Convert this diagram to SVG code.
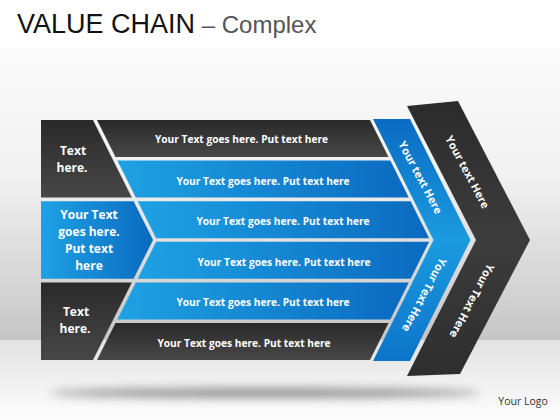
<svg xmlns="http://www.w3.org/2000/svg" width="560" height="420" viewBox="0 0 560 420">
  <defs>
    <linearGradient id="wall" x1="0" y1="0" x2="0" y2="1">
      <stop offset="0" stop-color="#fbfbfb"/>
      <stop offset="0.45" stop-color="#f0f0f0"/>
      <stop offset="1" stop-color="#c6c6c6"/>
    </linearGradient>
    <linearGradient id="floor" x1="0" y1="0" x2="0" y2="1">
      <stop offset="0" stop-color="#e2e2e2"/>
      <stop offset="1" stop-color="#fdfdfd"/>
    </linearGradient>
    <linearGradient id="dark" x1="0" y1="0" x2="0" y2="1">
      <stop offset="0" stop-color="#2a2a2a"/>
      <stop offset="1" stop-color="#474747"/>
    </linearGradient>
    <linearGradient id="darkband" x1="0" y1="0" x2="0" y2="1">
      <stop offset="0" stop-color="#2b2b2b"/>
      <stop offset="0.5" stop-color="#3c3c3c"/>
      <stop offset="1" stop-color="#2e2e2e"/>
    </linearGradient>
    <linearGradient id="blue" x1="0" y1="0" x2="1" y2="0">
      <stop offset="0" stop-color="#1ea2e4"/>
      <stop offset="1" stop-color="#0a6ac0"/>
    </linearGradient>
    <linearGradient id="blueband" x1="0" y1="0" x2="0" y2="1">
      <stop offset="0" stop-color="#0a6cc2"/>
      <stop offset="0.5" stop-color="#1a9be0"/>
      <stop offset="1" stop-color="#0c74c8"/>
    </linearGradient>
    <filter id="blur" x="-20%" y="-200%" width="140%" height="500%">
      <feGaussianBlur stdDeviation="5"/>
    </filter>
    <style>
      .dk { fill: url(#dark); }
      .bl { fill: url(#blue); }
      .t { font-family: "Open Sans", "Liberation Sans", sans-serif; font-weight: 700; fill: #ffffff; text-anchor: middle; }
      .row { font-size: 10.2px; }
      .box { font-size: 12px; }
      .rot { font-size: 11px; }
    </style>
  </defs>

  <!-- background -->
  <rect x="0" y="0" width="560" height="420" fill="#ffffff"/>
  <rect x="0" y="48" width="560" height="292" fill="url(#wall)"/>
  <rect x="0" y="340" width="560" height="80" fill="url(#floor)"/>
  <ellipse cx="265" cy="393" rx="215" ry="5" fill="#6a6a6a" opacity="0.7" filter="url(#blur)"/>

  <!-- title -->
  <text x="17" y="33" font-family="'Liberation Sans', Arial, sans-serif" font-size="27" fill="#111111">VALUE CHAIN<tspan fill="#555555" font-size="24"> – Complex</tspan></text>

  <!-- left boxes -->
  <g id="box-top">
    <polygon class="dk" points="41,120 93,120 131.8,197.6 41,197.6"/>
    <text class="t box" x="73" y="155">Text</text>
    <text class="t box" x="72" y="172">here.</text>
  </g>
  <g id="box-mid">
    <polygon class="bl" points="41,201.2 133.6,201.2 153,240 133.6,278.8 41,278.8"/>
    <text class="t box" x="89" y="219.3">Your Text</text>
    <text class="t box" x="89" y="236.3">goes here.</text>
    <text class="t box" x="89" y="253.3">Put text</text>
    <text class="t box" x="89" y="270.3">here</text>
  </g>
  <g id="box-bottom">
    <polygon class="dk" points="41,282.4 131.8,282.4 93,360 41,360"/>
    <text class="t box" x="76" y="316">Text</text>
    <text class="t box" x="75" y="333">here.</text>
  </g>

  <!-- rows -->
  <g id="row-1">
    <polygon class="dk" points="97,120 370,120 388.5,157 115.5,157"/>
    <text class="t row" x="241.5" y="142.7">Your Text goes here. Put text here</text>
  </g>
  <g id="row-2">
    <polygon class="bl" points="117.3,160.6 390.3,160.6 408.8,197.6 135.8,197.6"/>
    <text class="t row" x="263" y="184.5">Your Text goes here. Put text here</text>
  </g>
  <g id="row-3">
    <polygon class="bl" points="137.6,201.2 410.6,201.2 429.1,238.2 156.1,238.2"/>
    <text class="t row" x="283" y="224.5">Your Text goes here. Put text here</text>
  </g>
  <g id="row-4">
    <polygon class="bl" points="156.1,241.8 429.1,241.8 410.6,278.8 137.6,278.8"/>
    <text class="t row" x="284" y="265.5">Your Text goes here. Put text here</text>
  </g>
  <g id="row-5">
    <polygon class="bl" points="135.8,282.4 408.8,282.4 390.3,319.4 117.3,319.4"/>
    <text class="t row" x="263" y="305.7">Your Text goes here. Put text here</text>
  </g>
  <g id="row-6">
    <polygon class="dk" points="115.5,323 388.5,323 370,360 97,360"/>
    <text class="t row" x="244" y="346.7">Your Text goes here. Put text here</text>
  </g>

  <!-- blue chevron band -->
  <g id="blue-chevron">
    <polygon fill="url(#blueband)" points="373,119 410,119 470.5,240 410,361 373,361 433.5,240"/>
    <text class="t rot" transform="translate(420.5,177.5) rotate(62)" x="0" y="0" dy="0.36em">Your text Here</text>
    <text class="t rot" transform="translate(424.5,295) rotate(118)" x="0" y="0" dy="0.36em">Your Text Here</text>
  </g>

  <!-- dark chevron band -->
  <g id="dark-chevron">
    <polygon fill="url(#darkband)" points="407,106 458,101 530,240 460,374 407,376 476,240"/>
    <text class="t rot" transform="translate(467.5,172) rotate(62)" x="0" y="0" dy="0.36em">Your text Here</text>
    <text class="t rot" transform="translate(472,301) rotate(118)" x="0" y="0" dy="0.36em">Your Text Here</text>
  </g>

  <!-- logo -->
  <text x="523" y="405" font-family="'Open Sans', 'Liberation Sans', sans-serif" font-size="10.5" fill="#333333" text-anchor="middle">Your Logo</text>
</svg>
